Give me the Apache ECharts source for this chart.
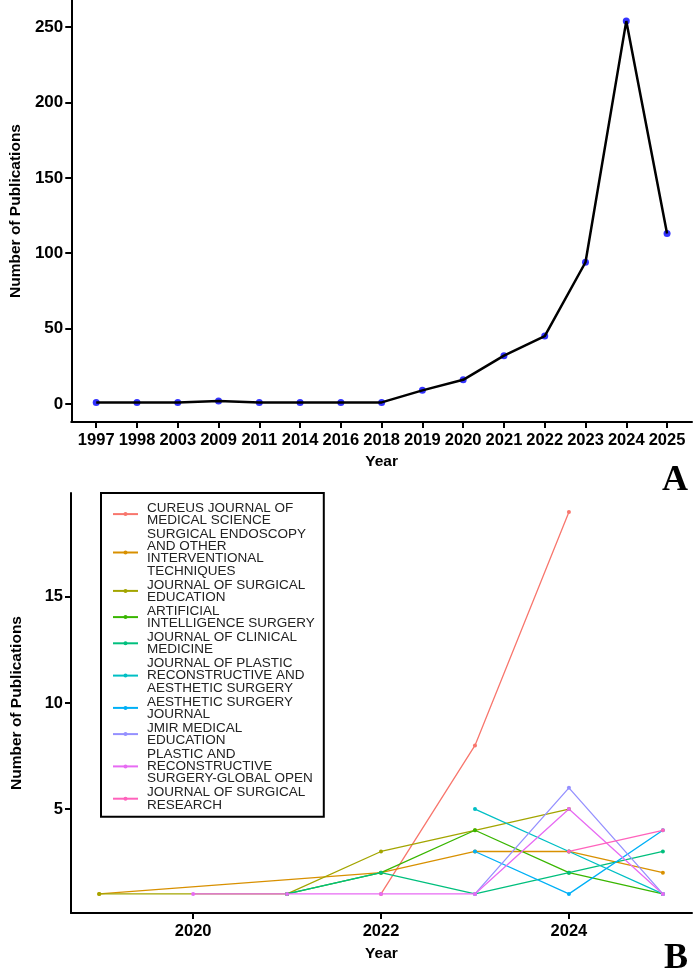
<!DOCTYPE html>
<html>
<head>
<meta charset="utf-8">
<script src="https://cdn.jsdelivr.net/npm/echarts@6/dist/echarts.min.js"></script>
<style>
  html, body { margin: 0; padding: 0; background: #fff; }
  #chart { width: 700px; height: 980px; }
</style>
</head>
<body>
<div id="chart"></div>
<script>
// panel A: publications per year
var years = ['1997', '1998', '2003', '2009', '2011', '2014', '2016', '2018',
  '2019', '2020', '2021', '2022', '2023', '2024', '2025'];
var pubCounts = [1, 1, 1, 2, 1, 1, 1, 1, 9, 16, 32, 45, 94, 254, 113];
var yTicksA = [0, 50, 100, 150, 200, 250];

// panel B: top journals per year
var journals = [
  'CUREUS JOURNAL OF\nMEDICAL SCIENCE',
  'SURGICAL ENDOSCOPY\nAND OTHER\nINTERVENTIONAL\nTECHNIQUES',
  'JOURNAL OF SURGICAL\nEDUCATION',
  'ARTIFICIAL\nINTELLIGENCE SURGERY',
  'JOURNAL OF CLINICAL\nMEDICINE',
  'JOURNAL OF PLASTIC\nRECONSTRUCTIVE AND\nAESTHETIC SURGERY',
  'AESTHETIC SURGERY\nJOURNAL',
  'JMIR MEDICAL\nEDUCATION',
  'PLASTIC AND\nRECONSTRUCTIVE\nSURGERY-GLOBAL OPEN',
  'JOURNAL OF SURGICAL\nRESEARCH'
];
var journalYears = [
  [2022, 2023, 2024],
  [2019, 2022, 2023, 2024, 2025],
  [2019, 2021, 2022, 2023, 2024],
  [2021, 2022, 2023, 2024, 2025],
  [2021, 2022, 2023, 2024, 2025],
  [2023, 2024, 2025],
  [2023, 2024, 2025],
  [2023, 2024, 2025],
  [2020, 2021, 2022, 2023, 2024, 2025],
  [2024, 2025]
];
var journalCounts = [
  [1, 8, 19],
  [1, 2, 3, 3, 2],
  [1, 1, 3, 4, 5],
  [1, 2, 4, 2, 1],
  [1, 2, 1, 2, 3],
  [5, 3, 1],
  [3, 1, 4],
  [1, 6, 1],
  [1, 1, 1, 1, 5, 1],
  [3, 4]
];
var journalColors = ['#F8766D', '#D89000', '#A3A500', '#39B600', '#00BF7D',
  '#00BFC4', '#00B0F6', '#9590FF', '#E76BF3', '#FF62BC'];
var xTicksB = [2020, 2022, 2024];
var yTicksB = [5, 10, 15];

var FONT = '"Liberation Sans", Arial, sans-serif';

var chart = echarts.init(document.getElementById('chart'));

function axisBase(extra) {
  var base = {
    splitLine: { show: false },
    axisLine: { show: true, onZero: false, lineStyle: { color: '#000', width: 2 } },
    axisTick: { show: true, length: 6, lineStyle: { color: '#000', width: 2 } },
    axisLabel: { color: '#000', fontWeight: 'bold', fontFamily: FONT, fontSize: 16.5 },
    nameTextStyle: { color: '#000', fontWeight: 'bold', fontFamily: FONT, fontSize: 15.5 },
    nameLocation: 'middle'
  };
  return echarts.util.merge(base, extra, true);
}

var seriesB = journals.map(function (name, i) {
  return {
    name: name,
    type: 'line',
    xAxisIndex: 1,
    yAxisIndex: 1,
    symbol: 'circle',
    symbolSize: 4,
    showSymbol: true,
    color: journalColors[i],
    lineStyle: { width: 1.3 },
    emphasis: { disabled: true },
    data: journalYears[i].map(function (y, j) { return [y, journalCounts[i][j]]; })
  };
});

var option = {
  animation: false,
  backgroundColor: '#fff',
  grid: [
    { left: 70, right: 8, top: 0, bottom: 558 },
    { left: 71, right: 8, top: 493, bottom: 67 }
  ],
  xAxis: [
    axisBase({
      gridIndex: 0,
      type: 'value',
      min: -0.612,
      max: 14.612,
      name: 'Year',
      nameGap: 32,
      axisTick: { customValues: years.map(function (d, i) { return i; }) },
      axisLabel: {
        customValues: years.map(function (d, i) { return i; }),
        margin: 10,
        formatter: function (v) { return years[Math.round(v)]; }
      }
    }),
    axisBase({
      gridIndex: 1,
      type: 'value',
      min: 2018.70,
      max: 2025.31,
      name: 'Year',
      nameGap: 33,
      axisTick: { customValues: xTicksB },
      axisLabel: {
        customValues: xTicksB,
        margin: 10,
        formatter: function (v) { return String(v); }
      }
    })
  ],
  yAxis: [
    axisBase({
      gridIndex: 0,
      type: 'value',
      min: -12,
      max: 268,
      name: 'Number of Publications',
      nameGap: 46,
      axisTick: { customValues: yTicksA },
      axisLabel: { customValues: yTicksA, margin: 8, fontSize: 17 }
    }),
    axisBase({
      gridIndex: 1,
      type: 'value',
      min: 0.1,
      max: 19.9,
      name: 'Number of Publications',
      nameGap: 46,
      axisTick: { customValues: yTicksB },
      axisLabel: { customValues: yTicksB, margin: 8 }
    })
  ],
  legend: {
    data: journals,
    orient: 'vertical',
    left: 101,
    top: 493,
    itemGap: 0,
    itemWidth: 25,
    itemHeight: 5,
    padding: [8, 9, 5, 11],
    borderColor: '#000',
    borderWidth: 2,
    selectedMode: false,
    textStyle: {
      color: '#222',
      fontFamily: FONT,
      fontSize: 13.5,
      lineHeight: 12.2,
      padding: [0, 0, 0, 4]
    }
  },
  graphic: [
    { type: 'text', left: 662, top: 463,
      style: { text: 'A', font: 'bold 36px "Liberation Serif", "Times New Roman", serif', fill: '#000' } },
    { type: 'text', left: 664, top: 941,
      style: { text: 'B', font: 'bold 36px "Liberation Serif", "Times New Roman", serif', fill: '#000' } }
  ],
  series: [
    {
      type: 'scatter',
      xAxisIndex: 0,
      yAxisIndex: 0,
      symbolSize: 7,
      z: 1,
      itemStyle: { color: '#0000FF' },
      emphasis: { disabled: true },
      data: pubCounts.map(function (v, i) { return [i, v]; })
    },
    {
      type: 'line',
      xAxisIndex: 0,
      yAxisIndex: 0,
      showSymbol: false,
      z: 3,
      lineStyle: { color: '#000', width: 2.5 },
      emphasis: { disabled: true },
      data: pubCounts.map(function (v, i) { return [i, v]; })
    }
  ].concat(seriesB)
};

chart.setOption(option);
</script>
</body>
</html>
